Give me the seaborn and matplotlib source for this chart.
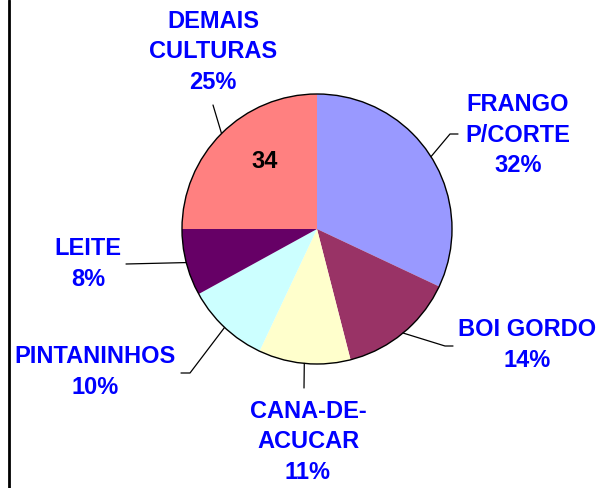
import numpy as np
import seaborn as sns
from matplotlib import pyplot as plt
from matplotlib.patches import Circle

# data (clockwise from 12 o'clock)
categories = ['FRANGO\nP/CORTE', 'BOI GORDO', 'CANA-DE-\nACUCAR', 'PINTANINHOS', 'LEITE', 'DEMAIS\nCULTURAS']
shares = [32, 14, 11, 10, 8, 25]
colors = ['#9999FF', '#993366', '#FFFFCC', '#CCFFFF', '#660066', '#FF8080']
inner_label = '34'

W, H = 599, 488
CX, CY, R = 317, 259, 135

# label anchor (text center) and leader elbow, in pixel coords from bottom-left
label_pos = [(518, 353), (527, 143), (308, 46), (95, 116), (88, 224), (213, 436)]
elbows = [[(450, 354), (458, 354)],
          [(445, 142), (453, 142)],
          [(304, 100)],
          [(190, 115), (181, 115)],
          [(126, 224)],
          [(213, 383)]]


def main():
    sns.set_style('white')
    plt.rcParams['font.family'] = ['Liberation Sans', 'DejaVu Sans']

    fig = plt.figure(figsize=(W / 100, H / 100), dpi=100)
    ax = fig.add_axes([0, 0, 1, 1])

    wedges, _ = ax.pie(shares, colors=colors, startangle=90, counterclock=False,
                       center=(CX, CY), radius=R, frame=True,
                       wedgeprops=dict(linewidth=0))
    ax.set_xlim(0, W)
    ax.set_ylim(0, H)
    ax.set_aspect('equal')
    ax.axis('off')
    ax.add_patch(Circle((CX, CY), R, fill=False, edgecolor='black', lw=1.0))

    for w, cat, val, (tx, ty), elb in zip(wedges, categories, shares, label_pos, elbows):
        ang = np.deg2rad((w.theta1 + w.theta2) / 2)
        ex, ey = CX + R * np.cos(ang), CY + R * np.sin(ang)
        pts = [(ex, ey)] + elb
        ax.plot([p[0] for p in pts], [p[1] for p in pts], color='black', lw=0.9)
        ax.text(tx, ty, f'{cat}\n{val}%', ha='center', va='center', color='#0000FF',
                fontsize=17, fontweight='bold', linespacing=1.42)

    ax.text(265, 326, inner_label, ha='center', va='center', color='black',
            fontsize=17, fontweight='bold')

    ax.plot([8.5, 8.5], [0, H], color='black', lw=2)

    fig.savefig('out.png', dpi=100)


if __name__ == '__main__':
    main()
